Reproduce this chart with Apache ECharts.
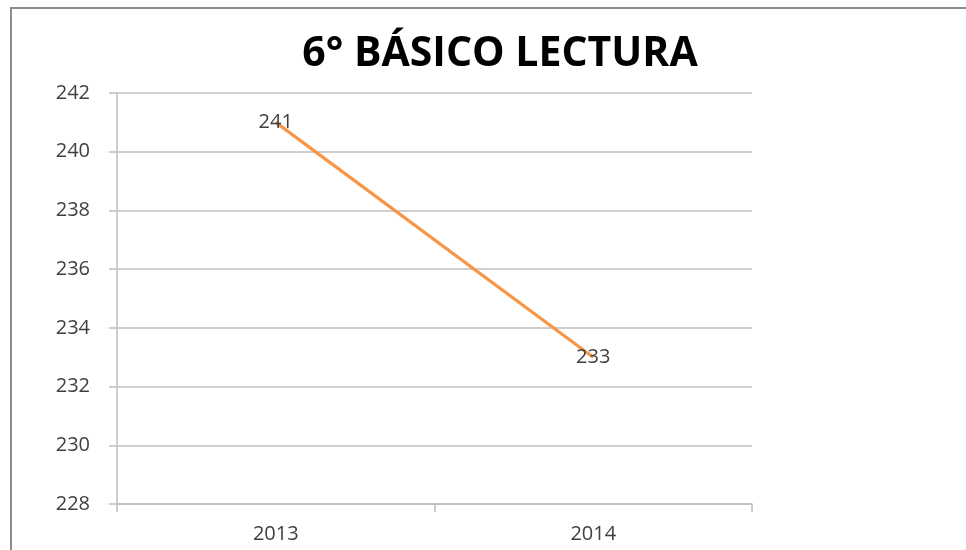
<!DOCTYPE html>
<html><head><meta charset="utf-8">
<script src="https://cdn.jsdelivr.net/npm/echarts@6/dist/echarts.min.js"></script>
<style>html,body{margin:0;padding:0;background:#fff}#c{width:966px;height:550px}</style>
</head><body><div id="c"></div>
<script>
const title = '6° BÁSICO LECTURA';
const categories = ['2013', '2014'];
const values = [241, 233];
const yTicks = { min: 228, max: 242, interval: 2 };

const chart = echarts.init(document.getElementById('c'), null, { renderer: 'canvas' });
chart.setOption({
  backgroundColor: '#fff',
  animation: false,
  title: {
    text: title, left: 495, top: 29, textAlign: 'center',
    textStyle: { fontFamily: 'Open Sans', fontWeight: 'bold', fontSize: 41, color: '#000' }
  },
  graphic: [
    { type: 'line', shape: { x1: 10, y1: 8, x2: 966, y2: 8 }, style: { stroke: '#8c8c8c', lineWidth: 2 } },
    { type: 'line', shape: { x1: 11, y1: 8, x2: 11, y2: 550 }, style: { stroke: '#8c8c8c', lineWidth: 2 } }
  ],
  grid: { left: 117, right: 214, top: 93, bottom: 46 },
  xAxis: {
    type: 'category', data: categories, boundaryGap: true,
    axisLine: { lineStyle: { color: '#bfbfbf', width: 1.5 } },
    axisTick: { show: true, length: 8, alignWithLabel: false, lineStyle: { color: '#bfbfbf', width: 1.5 } },
    axisLabel: { margin: 20, fontFamily: 'Open Sans', fontSize: 20, color: '#404040' }
  },
  yAxis: {
    type: 'value', min: yTicks.min, max: yTicks.max, interval: yTicks.interval,
    axisLine: { show: true, lineStyle: { color: '#bfbfbf', width: 1.5 } },
    axisTick: { show: true, length: 8, lineStyle: { color: '#bfbfbf', width: 1.5 } },
    splitLine: { lineStyle: { color: '#bfbfbf', width: 1.5 } },
    axisLabel: { margin: 27, fontFamily: 'Open Sans', fontSize: 20, color: '#404040' }
  },
  series: [{
    type: 'line', data: values, symbol: 'circle', symbolSize: 2, showSymbol: true,
    itemStyle: { color: 'rgba(247,150,70,0)', borderWidth: 0 },
    lineStyle: { color: '#f79646', width: 3.2 },
    label: {
      show: true, position: 'inside', fontFamily: 'Open Sans', fontSize: 20, color: '#404040'
    }
  }]
});
</script></body></html>
